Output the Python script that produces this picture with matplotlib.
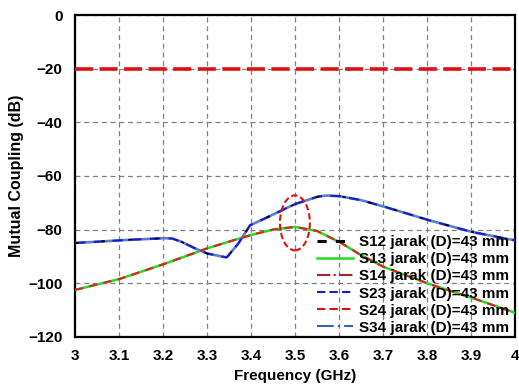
import numpy as np
import matplotlib.pyplot as plt
from matplotlib.patches import Ellipse
from matplotlib.lines import Line2D

plt.rcParams['font.family'] = ['Liberation Sans', 'DejaVu Sans']
plt.rcParams['font.weight'] = 'bold'

# upper curve (S12, S23, S34)
f_up = [3.0, 3.1, 3.2, 3.22, 3.24, 3.27, 3.3, 3.345, 3.37, 3.398, 3.43, 3.47, 3.5, 3.55, 3.57, 3.6, 3.65, 3.7, 3.8, 3.9, 4.0]
s_up = [-85, -84, -83.2, -83.3, -84.4, -86.8, -88.9, -90.4, -85.5, -78.4, -76, -72.8, -70.5, -67.8, -67.3, -67.5, -69, -71.3, -76.3, -80.8, -84]
# lower curve (S13, S24)
f_lo = [3.0, 3.1, 3.2, 3.3, 3.4, 3.45, 3.5, 3.55, 3.6, 3.65, 3.7, 3.8, 3.9, 4.0]
s_lo = [-102.5, -98.5, -93, -87, -82, -80, -79, -80.5, -84.5, -89.5, -93.8, -100, -105.3, -111]
# flat line (S14)
f_flat = [3.0, 4.0]
s_flat = [-20, -20]

labels = ['S12 jarak (D)=43 mm', 'S13 jarak (D)=43 mm', 'S14 jarak (D)=43 mm',
          'S23 jarak (D)=43 mm', 'S24 jarak (D)=43 mm', 'S34 jarak (D)=43 mm']

xs_up = np.linspace(3.0, 4.0, 400)
ys_up = np.interp(xs_up, f_up, s_up)
xs_lo = np.linspace(3.0, 4.0, 400)
ys_lo = np.interp(xs_lo, f_lo, s_lo)

fig = plt.figure(figsize=(5.19, 3.85), dpi=100)
ax = fig.add_axes([0.1445, 0.125, 0.8475, 0.836])

ax.plot(xs_lo, ys_lo, color='#22dd22', lw=1.8, zorder=3)
ax.plot(xs_lo, ys_lo, color='#e02020', lw=1.5, ls=(0, (4, 3)), zorder=4)
ax.plot(f_flat, s_flat, color='#e01010', lw=2.6, ls=(0, (5, 1.8)), zorder=4)
ax.plot(xs_up, ys_up, color='#5a7fc8', lw=1.9, zorder=3)
ax.plot(xs_up, ys_up, color='#1a1ad0', lw=1.5, ls=(0, (5, 4)), zorder=4)
ax.plot(xs_up, ys_up, color='black', lw=1.2, ls=(0, (2, 14)), zorder=5)

ax.add_patch(Ellipse((3.5, -77.5), 0.068, 20.5, fill=False, ec='#e01010',
                     lw=1.5, ls=(0, (3, 1.5)), zorder=6))

handles = [
    Line2D([], [], color='black', lw=2.2, ls=(0, (3, 3))),
    Line2D([], [], color='#22dd22', lw=1.8),
    Line2D([], [], color='#b02020', lw=1.5, ls='-.'),
    Line2D([], [], color='#1a1ad0', lw=1.5, ls=(0, (4, 2))),
    Line2D([], [], color='#e01010', lw=1.5, ls=(0, (4, 2))),
    Line2D([], [], color='#3060c0', lw=1.5, ls=(0, (8, 2, 1, 2))),
]
leg = ax.legend(handles, labels, loc='lower right', frameon=False, fontsize=11,
                handlelength=2.4, handletextpad=0.35, labelspacing=0.2,
                borderaxespad=0.0, bbox_to_anchor=(1.0, -0.012))

ax.set_xlim(3.0, 4.0)
ax.set_ylim(-120, 0)
ax.set_xticks(np.arange(3.0, 4.01, 0.1))
ax.set_xticklabels(['3', '3.1', '3.2', '3.3', '3.4', '3.5', '3.6', '3.7', '3.8', '3.9', '4'])
ax.set_yticks(np.arange(-120, 1, 20))
ax.grid(True, color='#808080', ls=(0, (4, 3)), lw=0.9)
ax.tick_params(length=0, labelsize=11, pad=9)
for s in ax.spines.values():
    s.set_linewidth(1.6)
ax.set_xlabel('Frequency (GHz)', fontsize=11, fontweight='bold', labelpad=4)
ax.set_ylabel('Mutual Coupling (dB)', fontsize=11.5, fontweight='bold', labelpad=3)

fig.savefig('out.png', dpi=100)
